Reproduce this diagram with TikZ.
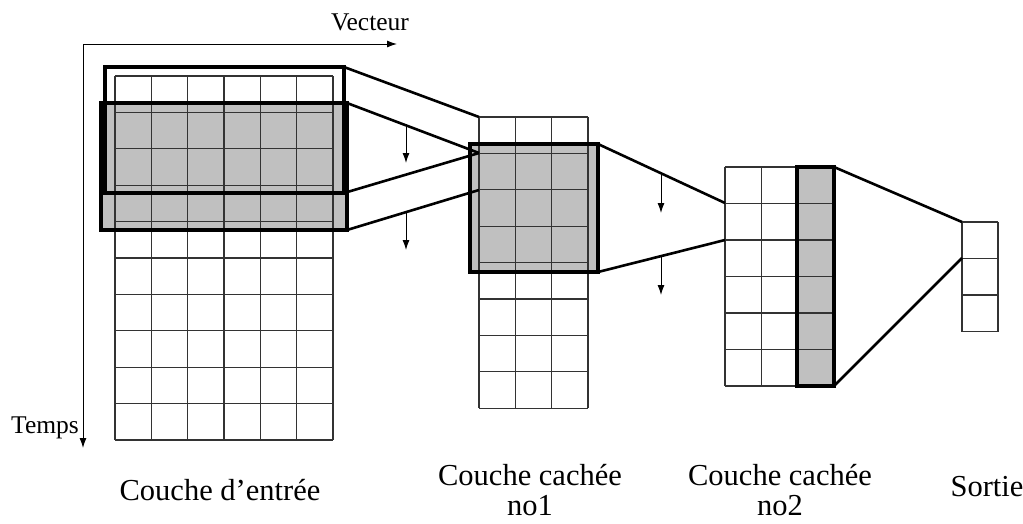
\documentclass[tikz,border=0pt]{standalone}
\usepackage{fontspec}
\setmainfont{Liberation Serif}
\usetikzlibrary{arrows.meta}
\definecolor{cellgrey}{RGB}{192,192,192}
\tikzset{
  gridline/.style={line width=1.2pt, draw=black!80},
  thickbox/.style={line width=3.2pt, draw=black},
  conn/.style={line width=2.6pt, draw=black},
  shiftarrow/.style={line width=1pt, -{Latex[length=10pt,width=7pt]}},
  axis/.style={line width=1pt},
  smalllab/.style={font=\fontsize{25.5}{28}\selectfont, inner sep=0pt},
  biglab/.style={font=\fontsize{30.5}{30}\selectfont, inner sep=0pt, align=center}
}
\begin{document}
\begin{tikzpicture}[x=1pt,y=-1pt]
\useasboundingbox (0,0) rectangle (1023,523);
% axes
\coordinate (origin) at (83,44);
\coordinate (tend) at (83,448);
\coordinate (vend) at (397,44);
\draw[axis,{Latex[length=10pt,width=7pt]}-{Latex[length=10pt,width=7pt]}] (tend) -- (origin) -- (vend);
\node[smalllab] (vecteur) at (370,22) {Vecteur};
\node[smalllab] (temps) at (45,428) {Temps};
% key coordinates
\coordinate (r1tl) at (105,67);  \coordinate (r1br) at (344,193);
\coordinate (r1tr) at (344,67);
\coordinate (r2tl) at (101,103); \coordinate (r2br) at (347,230);
\coordinate (r2tr) at (347,103);
\coordinate (h1a) at (479,117); \coordinate (h1b) at (479,153); \coordinate (h1c) at (479,190);
\coordinate (g1tl) at (470,144); \coordinate (g1br) at (598,272);
\coordinate (g1tr) at (598,144);
\coordinate (h2a) at (725,203); \coordinate (h2b) at (725,240);
\coordinate (c2tl) at (797,167); \coordinate (c2br) at (834,386);
\coordinate (c2tr) at (834,167);
\coordinate (oa) at (962,222); \coordinate (ob) at (962,258);
% fills
\fill[cellgrey] (r2tl) rectangle (r2br);
\fill[cellgrey] (g1tl) rectangle (g1br);
\fill[cellgrey] (c2tl) rectangle (c2br);
% input grid 6x10
\foreach \i in {0,...,6} \draw[gridline] ({115+\i*36.33},76) -- ({115+\i*36.33},440);
\foreach \j in {0,...,10} \draw[gridline] (115,{76+\j*36.4}) -- (333,{76+\j*36.4});
% hidden 1 grid 3x8
\foreach \i in {0,...,3} \draw[gridline] ({479+\i*36.33},117) -- ({479+\i*36.33},408);
\foreach \j in {0,...,8} \draw[gridline] (479,{117+\j*36.4}) -- (588,{117+\j*36.4});
% hidden 2 grid 3x6
\foreach \i in {0,...,3} \draw[gridline] ({725+\i*36.33},167) -- ({725+\i*36.33},386);
\foreach \j in {0,...,6} \draw[gridline] (725,{167+\j*36.5}) -- (834,{167+\j*36.5});
% output grid 1x3
\foreach \i in {0,1} \draw[gridline] ({962+\i*36},222) -- ({962+\i*36},331.5);
\foreach \j in {0,...,3} \draw[gridline] (962,{222+\j*36.5}) -- (998,{222+\j*36.5});
% thick outlines
\draw[thickbox] (r1tl) rectangle (r1br);
\draw[thickbox] (r2tl) rectangle (r2br);
\draw[thickbox] (g1tl) rectangle (g1br);
\draw[thickbox] (c2tl) rectangle (c2br);
% connectors
\draw[conn] (r1tr) -- (h1a);
\draw[conn] (r1br) -- (h1b);
\draw[conn] (r2tr) -- (h1b);
\draw[conn] (r2br) -- (h1c);
\draw[conn] (g1tr) -- (h2a);
\draw[conn] (g1br) -- (h2b);
\draw[conn] (c2tr) -- (oa);
\draw[conn] (c2br) -- (ob);
% shift arrows
\coordinate (a1s) at (406,126); \coordinate (a1e) at (406,163);
\coordinate (a2s) at (406,213); \coordinate (a2e) at (406,250);
\coordinate (a3s) at (661,175); \coordinate (a3e) at (661,213);
\coordinate (a4s) at (661,257); \coordinate (a4e) at (661,295);
\draw[shiftarrow] (a1s) -- (a1e);
\draw[shiftarrow] (a2s) -- (a2e);
\draw[shiftarrow] (a3s) -- (a3e);
\draw[shiftarrow] (a4s) -- (a4e);
% labels
\node[biglab] (lin) at (220,490) {Couche d'entrée};
\node[biglab] (lh1) at (530,490) {Couche cachée\\no1};
\node[biglab] (lh2) at (780,490) {Couche cachée\\no2};
\node[biglab] (lout) at (987,487) {Sortie};
\end{tikzpicture}
\end{document}
